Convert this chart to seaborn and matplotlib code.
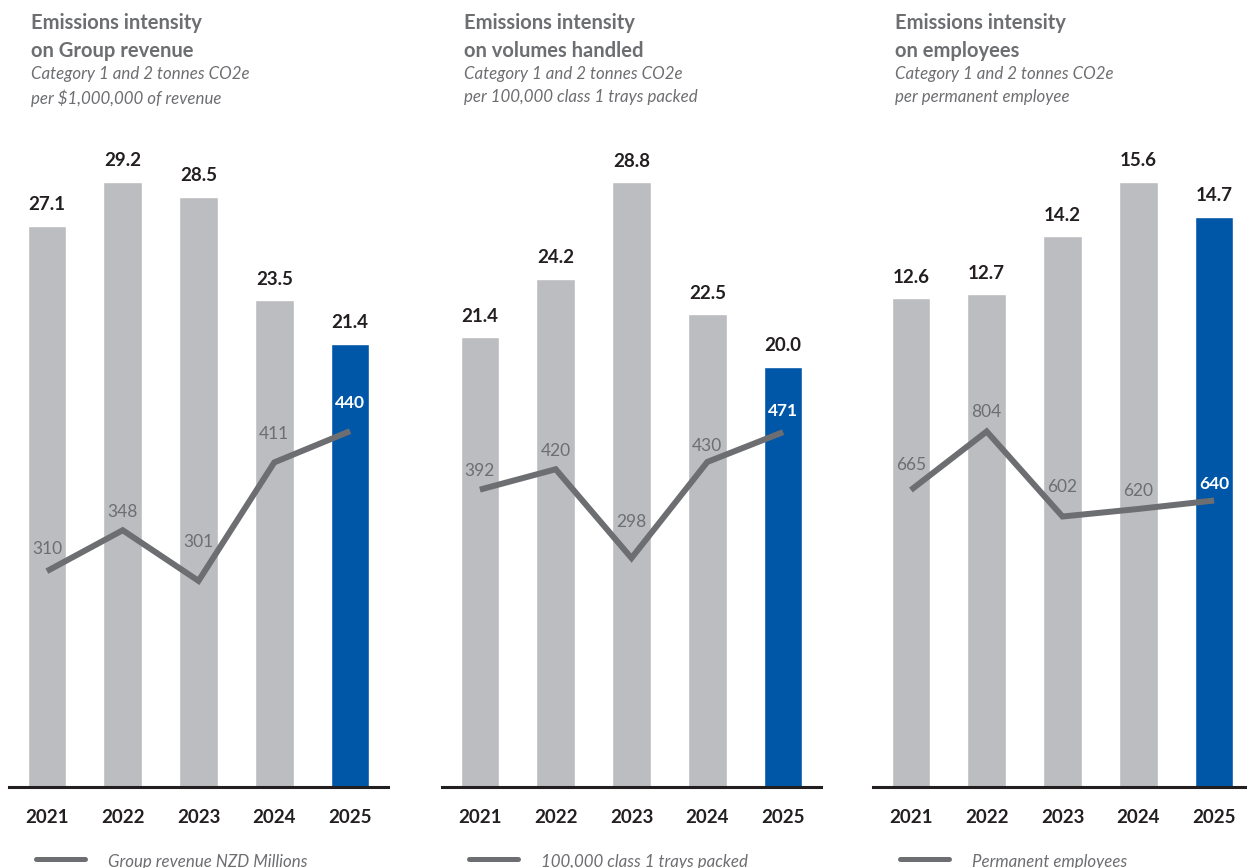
import numpy as np
import pandas as pd
import matplotlib
matplotlib.use("Agg")
import matplotlib.pyplot as plt
import seaborn as sns

sns.set_theme(style="white")
plt.rcParams["font.family"] = ["Lato", "DejaVu Sans"]

# ---- data -------------------------------------------------------------
years = ["2021", "2022", "2023", "2024", "2025"]

revenue_intensity = [27.1, 29.2, 28.5, 23.5, 21.4]
group_revenue = [310, 348, 301, 411, 440]

volume_intensity = [21.4, 24.2, 28.8, 22.5, 20.0]
trays_packed = [392, 420, 298, 430, 471]

employee_intensity = [12.6, 12.7, 14.2, 15.6, 14.7]
permanent_employees = [665, 804, 602, 620, 640]

titles = ["Emissions intensity\non Group revenue",
          "Emissions intensity\non volumes handled",
          "Emissions intensity\non employees"]
subtitles = ["Category 1 and 2 tonnes CO2e\nper $1,000,000 of revenue",
             "Category 1 and 2 tonnes CO2e\nper 100,000 class 1 trays packed",
             "Category 1 and 2 tonnes CO2e\nper permanent employee"]
legend_labels = ["Group revenue NZD Millions",
                 "100,000 class 1 trays packed",
                 "Permanent employees"]

bar_series = [revenue_intensity, volume_intensity, employee_intensity]
line_series = [group_revenue, trays_packed, permanent_employees]

# ---- styling / layout -------------------------------------------------
GREY_BAR = "#bcbdc0"
BLUE_BAR = "#0057a8"
LINE_GREY = "#6d6e71"
DARK = "#231f20"

W, H = 1247, 868
fig = plt.figure(figsize=(W / 100, H / 100), dpi=100)

panel_left_px = [9, 442, 873]
panel_width_px = 379
axis_bottom_px = 787
axis_top_px = 130
# secondary-axis ranges for the trend lines
line_ranges = [(109.6, 719.6), (-16.5, 886.0), (-40.4, 1520.0)]
# vertical gap (px) between each line point and its label
line_label_gap = [[22, 18, 39, 28, 28],
                  [19, 18, 36, 16, 21],
                  [25, 19, 30, 18, 17]]

px2pt = 72 / 100

for i in range(3):
    left = panel_left_px[i] / W
    bottom = (H - axis_bottom_px) / H
    height = (axis_bottom_px - axis_top_px) / H
    ax = fig.add_axes([left, bottom, panel_width_px / W, height])

    df = pd.DataFrame({"year": years, "value": bar_series[i]})
    colors = [GREY_BAR] * 4 + [BLUE_BAR]
    sns.barplot(data=df, x="year", y="value", hue="year", palette=colors,
                width=0.51, saturation=1, legend=False, ax=ax)
    vmax = max(bar_series[i])
    ax.set_ylim(0, vmax * (axis_bottom_px - axis_top_px) / 605)
    ax.set_xlim(-0.5, 4.5)

    for j, v in enumerate(bar_series[i]):
        ax.annotate(f"{v:.1f}", (j, v), xytext=(0, 21 * px2pt),
                    textcoords="offset points", ha="center", va="center",
                    fontsize=13.5, fontweight="bold", color=DARK)

    for s in ["top", "right", "left"]:
        ax.spines[s].set_visible(False)
    ax.spines["bottom"].set_color(DARK)
    ax.spines["bottom"].set_linewidth(2.2)
    ax.set_yticks([])
    ax.set_xlabel("")
    ax.set_ylabel("")
    ax.tick_params(axis="x", length=0, pad=16)
    for lbl in ax.get_xticklabels():
        lbl.set_fontsize(13.5)
        lbl.set_fontweight("bold")
        lbl.set_color(DARK)

    # trend line on a secondary axis
    ax2 = ax.twinx()
    ldf = pd.DataFrame({"x": np.arange(len(years)), "y": line_series[i]})
    sns.lineplot(data=ldf, x="x", y="y", color=LINE_GREY, linewidth=4.3,
                 ax=ax2, solid_joinstyle="miter", solid_capstyle="butt")
    ax2.set_ylim(*line_ranges[i])
    ax2.set_xlim(-0.5, 4.5)
    ax2.axis("off")
    for j, v in enumerate(line_series[i]):
        last = j == len(years) - 1
        ax2.annotate(f"{v}", (j, v), xytext=(0, line_label_gap[i][j] * px2pt),
                     textcoords="offset points", ha="center", va="center",
                     fontsize=12.5, color="white" if last else LINE_GREY,
                     fontweight="bold" if last else "normal")

    # titles
    tx = (panel_left_px[i] + 22) / W
    fig.text(tx, 1 - 13 / H, titles[i], ha="left", va="top", fontsize=14.5,
             fontweight="bold", color=LINE_GREY, linespacing=1.47)
    fig.text(tx, 1 - 66 / H, subtitles[i], ha="left", va="top", fontsize=12.2,
             style="italic", color=LINE_GREY, linespacing=1.53)

    # legend swatch
    lx0 = (panel_left_px[i] + 27) / W
    lx1 = (panel_left_px[i] + 76) / W
    ly = 1 - 859 / H
    fig.add_artist(plt.Line2D([lx0, lx1], [ly, ly], color=LINE_GREY,
                              linewidth=3.6, transform=fig.transFigure))
    fig.text((panel_left_px[i] + 99) / W, 1 - 862 / H, legend_labels[i],
             ha="left", va="center", fontsize=12.2, style="italic",
             color=LINE_GREY)

fig.savefig("out.png", dpi=100)
